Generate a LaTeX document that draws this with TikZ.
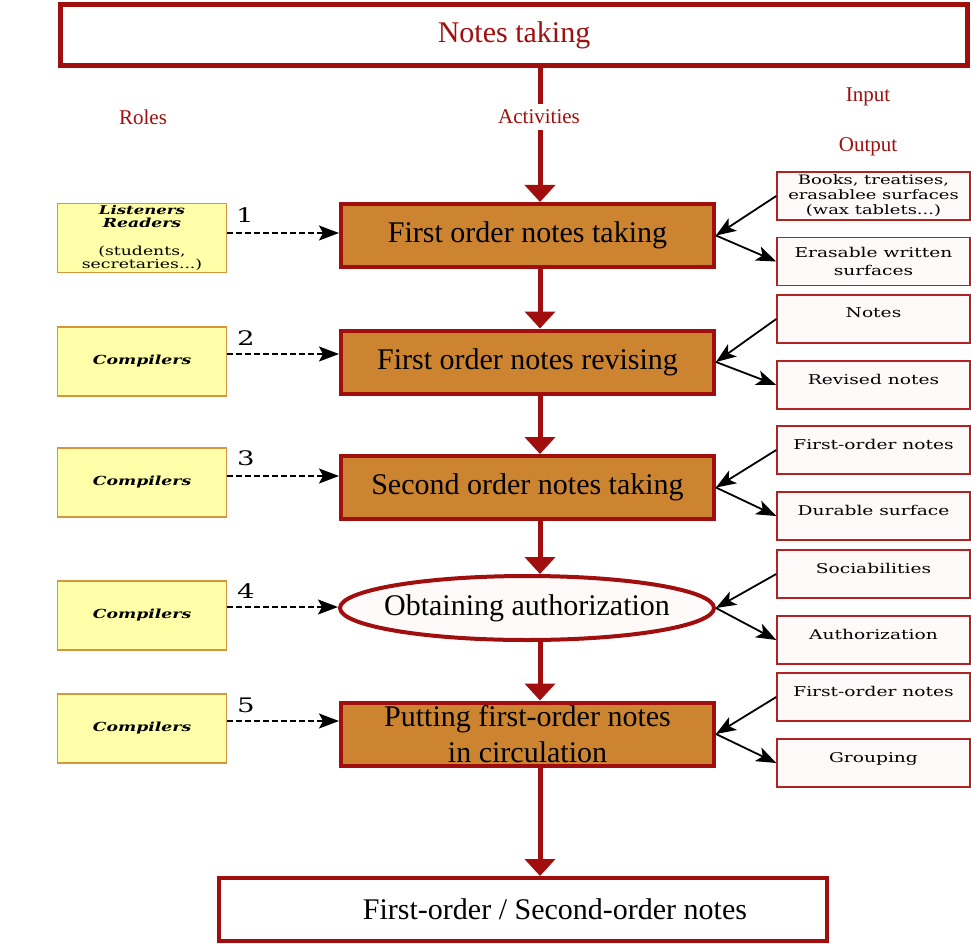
\documentclass[tikz,border=0pt]{standalone}
\usepackage{fontspec}
\setmainfont{Liberation Serif}
\newfontfamily\boxfont[FakeStretch=1.38]{DejaVu Serif}
\usetikzlibrary{arrows.meta,shapes.geometric}
\definecolor{notered}{RGB}{160,14,14}
\definecolor{actfill}{RGB}{204,132,48}
\definecolor{rolefill}{RGB}{255,255,170}
\definecolor{roleedge}{RGB}{214,150,60}
\definecolor{iofill}{RGB}{255,250,250}
\definecolor{ioedge}{RGB}{178,34,34}
\tikzset{head/.style={draw=notered,line width=5pt,fill=white,minimum width=907pt,minimum height=61pt,text=notered,font=\fontsize{30}{32}\selectfont}}
\tikzset{act/.style={draw=notered,line width=4pt,fill=actfill,minimum width=373pt,minimum height=63pt,inner sep=0pt,align=center,font=\fontsize{30}{36}\selectfont}}
\tikzset{auth/.style={ellipse,draw=notered,line width=4pt,fill=iofill,minimum width=374pt,minimum height=64pt,inner sep=0pt}}
\tikzset{actlabel/.style={font=\fontsize{30}{36}\selectfont}}
\tikzset{fin/.style={draw=notered,line width=4pt,fill=white,minimum width=608pt,minimum height=63pt}}
\tikzset{colhead/.style={text=notered,font=\fontsize{21}{24}\selectfont}}
\tikzset{role/.style={draw=roleedge,line width=1.5pt,fill=rolefill,minimum width=169pt,minimum height=69pt,inner sep=0pt,align=center,font=\boxfont\bfseries\itshape\fontsize{12.5}{13}\selectfont}}
\tikzset{io/.style={draw=ioedge,line width=1.5pt,fill=iofill,minimum width=193pt,minimum height=48pt,inner sep=0pt,align=center,font=\boxfont\fontsize{13.5}{18}\selectfont}}
\tikzset{ioup/.style={text depth=12pt}}
\tikzset{num/.style={font=\boxfont\fontsize{20}{22}\selectfont}}
\tikzset{spine/.style={draw=notered,line width=5pt,-{Triangle[width=30pt,length=17pt]}}}
\tikzset{feed/.style={black,line width=1.8pt,-{Stealth[length=20pt,width=15pt,inset=5pt]}}}
\tikzset{duty/.style={black,dash pattern=on 6pt off 3pt,line width=1.5pt,-{Stealth[length=20pt,width=15pt,inset=4pt]}}}

\begin{document}
\begin{tikzpicture}[x=1pt,y=-1pt]
\useasboundingbox (0,0) rectangle (971,944);
\coordinate (sp) at (540,0);
% title and activities
\node[head] (top) at (514,35) {Notes taking};
\node[act] (a1) at (527.5,235.5) {First order notes taking};
\node[act] (a2) at (527.5,362) {First order notes revising};
\node[act] (a3) at (527.5,487.5) {Second order notes taking};
\node[auth,label={[actlabel]center:Obtaining authorization}] (a4) at (527,608) {};
\node[act] (a5) at (527.5,734) {Putting first-order notes\\in circulation};
\node[fin,label={[actlabel,xshift=32pt]center:First-order / Second-order notes}] (end) at (523,909.5) {};
\draw[spine] (top.south -| sp)--(a1.north -| sp);
\draw[spine] (a1.south -| sp)--(a2.north -| sp);
\draw[spine] (a2.south -| sp)--(a3.north -| sp);
\draw[spine] (a3.south -| sp)--(a4.north -| sp);
\draw[spine] (a4.south -| sp)--(a5.north -| sp);
\draw[spine] (a5.south -| sp)--(end.north -| sp);
% column heads
\node[colhead] (rolesh) at (143,117) {Roles};
\node[colhead,fill=white,inner ysep=6pt] (actsh) at (539,117) {Activities};
\node[colhead] (inh) at (868,97) {Input};
\node[colhead] (outh) at (868,147) {Output};
% roles
\node[role] (r1) at (142,238) {\fontsize{12}{12}\selectfont Listeners\\Readers\\[15pt]\mdseries\upshape(students,\\\mdseries\upshape secretaries...)};
\node[role] (r2) at (142,361.5) {Compilers};
\node[role] (r3) at (142,482.5) {Compilers};
\node[role] (r4) at (142,615.5) {Compilers};
\node[role] (r5) at (142,728.5) {Compilers};
\coordinate (d1) at ([yshift=5pt]r1.east);
\coordinate (d2) at ([yshift=7.5pt]r2.east);
\coordinate (d3) at ([yshift=6.5pt]r3.east);
\coordinate (d4) at ([yshift=8.5pt]r4.east);
\coordinate (d5) at ([yshift=7.5pt]r5.east);
\draw[duty] (d1)--(d1 -| a1.west);
\draw[duty] (d2)--(d2 -| a2.west);
\draw[duty] (d3)--(d3 -| a3.west);
\draw[duty] (d4)--(d4 -| a4.west);
\draw[duty] (d5)--(d5 -| a5.west);
\node[num] (n1) at (245,215) {1};
\node[num] (n2) at (246,338) {2};
\node[num] (n3) at (246,458) {3};
\node[num] (n4) at (246,591) {4};
\node[num] (n5) at (246,705) {5};
% inputs and outputs
\node[io,font=\boxfont\fontsize{13}{15}\selectfont] (i1) at (873.5,196) {Books, treatises,\\erasablee surfaces\\(wax tablets...)};
\node[io] (o1) at (873.5,261.5) {Erasable written\\surfaces};
\node[io,ioup] (i2) at (873.5,319) {Notes};
\node[io,ioup] (o2) at (873.5,385) {Revised notes};
\node[io,ioup] (i3) at (873.5,450) {First-order notes};
\node[io,ioup] (o3) at (873.5,516) {Durable surface};
\node[io,ioup] (i4) at (873.5,574) {Sociabilities};
\node[io,ioup] (o4) at (873.5,640) {Authorization};
\node[io,ioup] (i5) at (873.5,697) {First-order notes};
\node[io,ioup] (o5) at (873.5,763) {Grouping};
\draw[feed] (i1.west)--(a1.east);
\draw[feed] (a1.east)--(o1.west);
\draw[feed] (i2.west)--(a2.east);
\draw[feed] (a2.east)--(o2.west);
\draw[feed] (i3.west)--(a3.east);
\draw[feed] (a3.east)--(o3.west);
\draw[feed] (i4.west)--(a4.east);
\draw[feed] (a4.east)--(o4.west);
\draw[feed] (i5.west)--(a5.east);
\draw[feed] (a5.east)--(o5.west);
\end{tikzpicture}
\end{document}
